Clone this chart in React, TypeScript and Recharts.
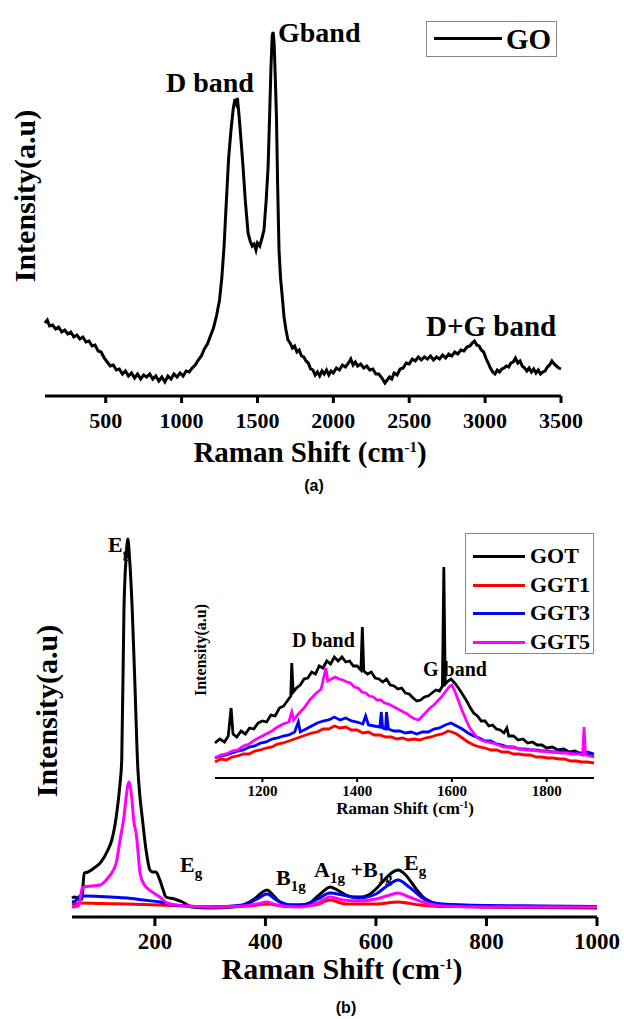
import { LineChart, Line, XAxis, YAxis } from 'recharts';

const serif = "'Liberation Serif', Tinos, 'Times New Roman', Times, 'DejaVu Serif', serif";
const sans = "'Liberation Sans', Arial, sans-serif";

// (a) GO Raman spectrum: [shift cm-1, intensity a.u.]
const goSpectrum: [number, number][] = [
  [100, 73], [115, 76], [130, 70], [150, 71], [170, 67], [190, 69], [210, 64], [230, 66], [250, 62], [270, 64],
  [290, 59], [310, 61], [330, 57], [350, 59], [370, 54], [390, 55], [410, 50], [430, 51], [450, 45], [470, 44],
  [490, 38], [510, 34], [530, 30], [550, 31], [570, 26], [590, 27], [610, 22], [630, 25], [650, 20], [670, 23],
  [690, 18], [710, 22], [730, 17], [750, 21], [770, 19], [790, 22], [810, 17], [830, 20], [850, 15], [870, 19],
  [890, 14], [910, 20], [930, 17], [950, 22], [970, 19], [990, 23], [1010, 20], [1030, 25], [1050, 24], [1070, 28],
  [1090, 31], [1110, 36], [1130, 40], [1150, 47], [1170, 52], [1190, 60], [1210, 68], [1230, 80], [1250, 96], [1265, 118],
  [1280, 150], [1295, 195], [1310, 238], [1325, 265], [1340, 287], [1352, 297], [1360, 293], [1368, 298], [1380, 278], [1392, 255],
  [1405, 229], [1420, 195], [1438, 163], [1452, 155], [1465, 150], [1478, 152], [1490, 146], [1500, 153], [1515, 150], [1530, 158],
  [1543, 166], [1557, 195], [1570, 229], [1580, 280], [1589, 329], [1597, 360], [1603, 364], [1610, 352], [1617, 320], [1625, 280],
  [1633, 210], [1642, 146], [1652, 118], [1663, 100], [1675, 79], [1688, 66], [1701, 56], [1715, 53], [1730, 48], [1745, 50],
  [1760, 44], [1775, 46], [1790, 40], [1805, 39], [1820, 35], [1835, 33], [1850, 27], [1865, 26], [1880, 21], [1895, 24],
  [1910, 20], [1925, 25], [1940, 22], [1955, 26], [1970, 21], [1985, 25], [2000, 23], [2020, 28], [2040, 26], [2060, 31],
  [2080, 29], [2100, 33], [2115, 37], [2130, 31], [2145, 34], [2160, 30], [2180, 32], [2200, 28], [2220, 30], [2240, 26],
  [2260, 27], [2280, 22], [2300, 22], [2320, 18], [2340, 13], [2355, 16], [2370, 19], [2385, 17], [2400, 23], [2420, 21],
  [2440, 27], [2460, 28], [2480, 33], [2500, 32], [2520, 37], [2540, 35], [2560, 39], [2580, 36], [2600, 39], [2620, 37],
  [2640, 40], [2660, 36], [2680, 39], [2700, 37], [2720, 41], [2740, 38], [2760, 42], [2780, 40], [2800, 44], [2820, 42],
  [2840, 46], [2860, 45], [2880, 49], [2900, 50], [2915, 53], [2930, 55], [2945, 51], [2960, 50], [2975, 46], [2990, 44],
  [3005, 38], [3020, 33], [3035, 28], [3050, 24], [3065, 22], [3080, 26], [3095, 24], [3110, 27], [3125, 28], [3140, 30],
  [3155, 29], [3170, 33], [3185, 34], [3200, 38], [3215, 33], [3230, 35], [3245, 30], [3260, 28], [3275, 25], [3290, 28],
  [3305, 24], [3320, 27], [3335, 23], [3350, 26], [3365, 22], [3380, 24], [3395, 25], [3410, 29], [3425, 31], [3440, 35],
  [3455, 32], [3470, 30], [3485, 28], [3500, 27],
];
const goTicks = [500, 1000, 1500, 2000, 2500, 3000, 3500];

// (b) low-wavenumber spectra
const gotLow: [number, number][] = [
  [50, 19], [55, 20], [64, 17], [68, 18], [72, 44], [79, 45], [90, 49], [101, 54], [115, 67], [122, 77],
  [130, 100], [137, 134], [140, 157], [144, 307], [148, 360], [151, 378], [154, 360], [159, 307], [164, 230], [169, 150],
  [173, 120], [177, 100], [184, 67], [191, 47], [196, 45], [202, 45], [209, 37], [215, 27], [220, 20], [235, 18],
  [250, 15], [267, 10], [300, 9], [340, 10], [360, 12], [380, 18], [395, 25], [403, 27], [412, 23], [426, 15],
  [445, 12], [463, 12], [480, 14], [495, 21], [510, 28], [517, 30], [530, 27], [545, 22], [557, 20], [572, 20],
  [586, 22], [600, 28], [615, 37], [628, 44], [640, 47], [652, 43], [665, 34], [677, 25], [687, 19], [700, 15],
  [716, 12], [750, 11], [800, 10], [900, 9.5], [1000, 9],
];
const ggt1Low: [number, number][] = [
  [50, 12], [56, 13], [64, 14], [100, 13.5], [150, 13], [209, 12], [258, 11], [300, 10], [370, 11], [403, 13],
  [440, 10.5], [490, 12], [517, 17], [545, 13], [600, 13], [640, 15], [680, 12], [720, 10.5], [1000, 10],
];
const ggt3Low: [number, number][] = [
  [50, 15], [56, 16], [62, 20], [66, 21], [77, 21], [100, 20.5], [119, 20], [150, 19], [179, 17], [209, 15],
  [233, 12], [258, 11], [300, 10], [360, 12], [385, 18], [403, 23], [420, 17], [445, 12], [470, 12], [495, 18],
  [517, 24], [540, 22], [570, 19], [600, 23], [620, 31], [640, 37], [660, 30], [690, 17], [720, 13], [800, 11.5],
  [900, 11], [1000, 10.5],
];
const ggt5Low: [number, number][] = [
  [50, 10], [60, 11], [64, 15], [68, 28], [72, 30], [85, 31], [101, 32], [115, 39], [124, 46], [130, 54],
  [137, 77], [144, 100], [148, 120], [153, 135], [158, 120], [162, 95], [166, 84], [170, 62], [173, 44], [180, 33],
  [188, 28], [195, 25], [209, 20], [222, 14], [240, 12], [258, 11], [300, 10], [360, 11], [385, 13], [403, 15],
  [420, 12], [460, 10], [495, 14], [517, 20], [540, 17], [570, 16], [600, 18], [625, 22], [640, 24], [660, 20],
  [690, 14], [720, 11], [800, 10], [1000, 10],
];
const lowTicks = [200, 400, 600, 800, 1000];

// (b) inset, D and G band region
const gotHigh: [number, number][] = [
  [1100, 35], [1110, 39], [1120, 36], [1128, 42], [1134, 70], [1138, 44], [1146, 41], [1155, 47], [1164, 44], [1173, 50],
  [1182, 49], [1191, 55], [1200, 57], [1209, 56], [1218, 63], [1227, 62], [1236, 70], [1245, 72], [1254, 78], [1260, 82],
  [1262, 115], [1265, 86], [1272, 90], [1280, 93], [1288, 99], [1296, 100], [1304, 106], [1312, 104], [1320, 112], [1328, 110],
  [1336, 117], [1344, 114], [1352, 121], [1360, 117], [1368, 121], [1376, 116], [1384, 117], [1392, 112], [1400, 112], [1408, 108],
  [1411, 151], [1414, 107], [1422, 104], [1430, 106], [1438, 100], [1446, 99], [1454, 96], [1462, 99], [1470, 93], [1478, 92],
  [1486, 89], [1494, 90], [1502, 85], [1510, 84], [1518, 80], [1526, 77], [1534, 78], [1542, 81], [1550, 82], [1558, 85],
  [1566, 88], [1574, 87], [1580, 92], [1583, 211], [1586, 94], [1592, 97], [1598, 99], [1606, 95], [1614, 90], [1622, 84],
  [1630, 78], [1638, 71], [1646, 65], [1654, 62], [1662, 57], [1670, 57], [1678, 52], [1686, 53], [1694, 49], [1702, 48],
  [1710, 45], [1716, 50], [1720, 42], [1730, 42], [1740, 38], [1750, 39], [1760, 35], [1770, 36], [1780, 33], [1790, 33],
  [1800, 30], [1812, 31], [1824, 28], [1836, 29], [1848, 26], [1860, 27], [1872, 24], [1884, 24], [1900, 21],
];
const ggt1High: [number, number][] = [
  [1100, 16], [1112, 19], [1124, 18], [1136, 21], [1148, 22], [1160, 24], [1172, 24], [1184, 27], [1196, 28], [1208, 30],
  [1220, 31], [1232, 34], [1244, 35], [1256, 37], [1268, 39], [1280, 41], [1292, 43], [1304, 45], [1316, 46], [1328, 49],
  [1340, 49], [1352, 52], [1364, 50], [1376, 51], [1388, 48], [1400, 48], [1412, 45], [1424, 46], [1436, 43], [1448, 43],
  [1460, 41], [1472, 41], [1484, 39], [1496, 40], [1508, 38], [1520, 39], [1532, 38], [1544, 40], [1556, 41], [1568, 43],
  [1580, 44], [1592, 47], [1600, 46], [1610, 44], [1622, 40], [1634, 36], [1646, 33], [1658, 31], [1670, 30], [1682, 28],
  [1694, 28], [1706, 26], [1718, 26], [1730, 24], [1742, 24], [1754, 23], [1766, 23], [1778, 21], [1790, 21], [1802, 20],
  [1814, 20], [1826, 19], [1838, 19], [1850, 17], [1862, 17], [1874, 16], [1886, 16], [1900, 15],
];
const ggt3High: [number, number][] = [
  [1100, 20], [1112, 22], [1124, 23], [1136, 25], [1148, 27], [1160, 28], [1172, 31], [1184, 32], [1196, 35], [1208, 36],
  [1220, 39], [1232, 40], [1244, 42], [1256, 43], [1268, 46], [1276, 56], [1280, 46], [1292, 49], [1304, 52], [1316, 55],
  [1328, 57], [1340, 58], [1352, 61], [1364, 58], [1376, 60], [1388, 57], [1400, 56], [1412, 54], [1418, 62], [1424, 53],
  [1436, 52], [1448, 51], [1451, 66], [1454, 50], [1460, 49], [1462, 66], [1466, 49], [1478, 47], [1490, 47], [1502, 45],
  [1514, 46], [1526, 44], [1538, 46], [1550, 46], [1562, 49], [1574, 50], [1586, 53], [1598, 55], [1610, 52], [1622, 49],
  [1634, 45], [1646, 42], [1658, 40], [1670, 37], [1682, 37], [1694, 34], [1706, 33], [1718, 31], [1730, 31], [1742, 29],
  [1754, 29], [1766, 28], [1778, 28], [1790, 27], [1802, 27], [1814, 26], [1826, 26], [1838, 26], [1850, 25], [1862, 25],
  [1874, 25], [1886, 26], [1900, 24],
];
const ggt5High: [number, number][] = [
  [1100, 20], [1112, 23], [1124, 24], [1136, 27], [1148, 28], [1160, 32], [1172, 34], [1184, 38], [1196, 41], [1208, 44],
  [1220, 47], [1232, 51], [1244, 54], [1256, 56], [1262, 66], [1266, 58], [1276, 64], [1288, 70], [1300, 78], [1312, 84],
  [1324, 89], [1334, 110], [1338, 97], [1346, 99], [1354, 101], [1362, 99], [1370, 98], [1378, 96], [1386, 95], [1394, 91],
  [1402, 90], [1410, 86], [1418, 85], [1426, 82], [1434, 81], [1442, 78], [1450, 78], [1458, 75], [1466, 74], [1474, 72],
  [1482, 70], [1490, 68], [1498, 66], [1506, 64], [1514, 61], [1522, 59], [1530, 58], [1538, 62], [1546, 66], [1554, 70],
  [1562, 73], [1570, 77], [1578, 81], [1586, 86], [1594, 91], [1600, 93], [1606, 87], [1614, 77], [1622, 67], [1630, 58],
  [1638, 50], [1646, 45], [1654, 40], [1662, 38], [1674, 36], [1686, 35], [1698, 33], [1710, 31], [1722, 31], [1734, 30],
  [1746, 29], [1758, 28], [1770, 28], [1782, 27], [1794, 27], [1806, 26], [1818, 26], [1830, 25], [1842, 25], [1854, 24],
  [1866, 24], [1876, 23], [1879, 51], [1882, 23], [1890, 22], [1900, 21],
];
const insetTicks = [1200, 1400, 1600, 1800];

const sampleNames = ['GOT', 'GGT1', 'GGT3', 'GGT5'];
const sampleColors = ['#000000', '#ff0000', '#0000ff', '#ff00ff'];
const lowSeries = [gotLow, ggt1Low, ggt3Low, ggt5Low];
const highSeries = [gotHigh, ggt1High, ggt3High, ggt5High];

const toRows = (pts: [number, number][]) => pts.map(([x, y]) => ({ x, y }));

const frame = (w: number) => ({ stroke: '#000', strokeWidth: w });

function Txt({ left, top, size, children, family = serif, center = false, width = 0 }: any) {
  return (
    <div
      style={{
        position: 'absolute',
        left: center ? left - width / 2 : left,
        top,
        width: center ? width : undefined,
        textAlign: center ? 'center' : 'left',
        fontFamily: family,
        fontWeight: 700,
        fontSize: size,
        lineHeight: `${size}px`,
        whiteSpace: 'nowrap',
        color: '#000',
      }}
    >
      {children}
    </div>
  );
}

function VTxt({ cx, cy, size, children }: any) {
  return (
    <div
      style={{
        position: 'absolute',
        left: cx,
        top: cy,
        transform: 'translate(-50%, -50%) rotate(-90deg)',
        fontFamily: serif,
        fontWeight: 700,
        fontSize: size,
        lineHeight: `${size}px`,
        whiteSpace: 'nowrap',
      }}
    >
      {children}
    </div>
  );
}

const Sub = ({ children, size = 15 }: any) => (
  <span style={{ fontSize: size, position: 'relative', top: 6 }}>{children}</span>
);
const Sup = ({ children, size, lift }: any) => (
  <span style={{ fontSize: size, position: 'relative', top: -lift }}>{children}</span>
);

export default function App() {
  return (
    <div style={{ position: 'absolute', left: 0, top: 0, width: 624, height: 1019, background: '#fff' }}>
      {/* panel (a) */}
      <Txt left={166} top={68.5} size={28}>D band</Txt>
      <Txt left={278} top={18.5} size={28}>Gband</Txt>
      <Txt left={426} top={311.5} size={29}>D+G band</Txt>

      <div style={{ position: 'absolute', left: 0, top: 0 }}>
        <LineChart width={624} height={440} margin={{ top: 14, right: 63, bottom: 0, left: 45 }}>
          <XAxis
            xAxisId="b" type="number" dataKey="x" domain={[100, 3500]} ticks={goTicks} height={44}
            axisLine={frame(3)} tickLine={frame(3)} tickSize={7} tickMargin={9}
            tick={{ fill: '#000', fontSize: 22, fontWeight: 700, fontFamily: serif }}
          />
          <XAxis xAxisId="t" orientation="top" type="number" domain={[100, 3500]} height={0} tick={false} tickLine={false} axisLine={frame(3)} />
          <YAxis yAxisId="l" type="number" domain={[0, 382]} width={0} tick={false} tickLine={false} axisLine={frame(3)} />
          <YAxis yAxisId="r" orientation="right" type="number" domain={[0, 382]} width={0} tick={false} tickLine={false} axisLine={frame(3)} />
          <Line
            xAxisId="b" yAxisId="l" data={toRows(goSpectrum)} dataKey="y" type="linear"
            stroke="#000" strokeWidth={3} dot={false} isAnimationActive={false}
          />
        </LineChart>
      </div>

      <div style={{ position: 'absolute', left: 426, top: 21, width: 129, height: 34, border: '1px solid #888', background: '#fff' }} />
      <div style={{ position: 'absolute', left: 434, top: 37, width: 68, height: 3, background: '#000' }} />
      <Txt left={506} top={24.5} size={29}>GO</Txt>

      <VTxt cx={25} cy={196} size={30}>Intensity(a.u)</VTxt>
      <Txt left={310} center width={400} top={437.5} size={29}>
        Raman Shift (cm<Sup size={15} lift={10}>-1</Sup>)
      </Txt>
      <Txt left={314} center width={60} top={478} size={16} family={sans}>(a)</Txt>

      {/* panel (b) */}
      <Txt left={108} top={533.5} size={22}>E<Sub>g</Sub></Txt>
      <Txt left={180} top={853.5} size={22}>E<Sub>g</Sub></Txt>
      <Txt left={276} top={867} size={22}>B<Sub>1g</Sub></Txt>
      <Txt left={314} top={859} size={22}>A<Sub>1g</Sub> +B<Sub>1g</Sub></Txt>
      <Txt left={404} top={852} size={22}>E<Sub>g</Sub></Txt>

      <div style={{ position: 'absolute', left: 0, top: 500 }}>
        <LineChart width={624} height={470} margin={{ top: 26, right: 27, bottom: 0, left: 72 }}>
          <XAxis
            xAxisId="b" type="number" dataKey="x" domain={[50, 1000]} ticks={lowTicks} height={53}
            axisLine={frame(3)} tickLine={frame(3)} tickSize={9} tickMargin={7}
            tick={{ fill: '#000', fontSize: 23, fontWeight: 700, fontFamily: serif }}
          />
          <XAxis xAxisId="t" orientation="top" type="number" domain={[50, 1000]} height={0} tick={false} tickLine={false} axisLine={frame(3)} />
          <YAxis yAxisId="l" type="number" domain={[0, 391]} width={0} tick={false} tickLine={false} axisLine={frame(3)} />
          <YAxis yAxisId="r" orientation="right" type="number" domain={[0, 391]} width={0} tick={false} tickLine={false} axisLine={frame(3)} />
          {lowSeries.map((s, i) => (
            <Line
              key={sampleNames[i]} xAxisId="b" yAxisId="l" data={toRows(s)} dataKey="y" type="monotone"
              stroke={sampleColors[i]} strokeWidth={3} dot={false} isAnimationActive={false}
            />
          ))}
        </LineChart>
      </div>

      {/* inset */}
      <Txt left={292} top={630} size={20}>D band</Txt>
      <Txt left={423} top={658.5} size={20}>G band</Txt>

      <div style={{ position: 'absolute', left: 0, top: 520 }}>
        <LineChart width={624} height={290} margin={{ top: 11, right: 30, bottom: 0, left: 215 }}>
          <XAxis
            xAxisId="b" type="number" dataKey="x" domain={[1100, 1900]} ticks={insetTicks} height={32}
            axisLine={frame(2)} tickLine={frame(2)} tickSize={4} tickMargin={3}
            tick={{ fill: '#000', fontSize: 15, fontWeight: 700, fontFamily: serif }}
          />
          <XAxis xAxisId="t" orientation="top" type="number" domain={[1100, 1900]} height={0} tick={false} tickLine={false} axisLine={frame(2)} />
          <YAxis yAxisId="l" type="number" domain={[0, 247]} width={0} tick={false} tickLine={false} axisLine={frame(2)} />
          <YAxis yAxisId="r" orientation="right" type="number" domain={[0, 247]} width={0} tick={false} tickLine={false} axisLine={frame(2)} />
          {highSeries.map((s, i) => (
            <Line
              key={sampleNames[i]} xAxisId="b" yAxisId="l" data={toRows(s)} dataKey="y" type="linear"
              stroke={sampleColors[i]} strokeWidth={2.8} dot={false} isAnimationActive={false}
            />
          ))}
        </LineChart>
      </div>

      <div style={{ position: 'absolute', left: 465, top: 533, width: 127, height: 119, border: '1px solid #888', background: '#fff' }} />
      {sampleNames.map((name, i) => (
        <div key={name}>
          <div style={{ position: 'absolute', left: 473, top: 555 + i * 28.7, width: 52, height: 3, background: sampleColors[i] }} />
          <Txt left={530} top={545 + i * 28.7} size={22}>{name}</Txt>
        </div>
      ))}

      <VTxt cx={201} cy={650} size={16}>Intensity(a.u)</VTxt>
      <Txt left={405} center width={300} top={799.5} size={17}>
        Raman Shift (cm<Sup size={10} lift={6}>-1</Sup>)
      </Txt>

      <VTxt cx={47} cy={711} size={30}>Intensity(a.u)</VTxt>
      <Txt left={342} center width={400} top={954} size={30}>
        Raman Shift (cm<Sup size={15} lift={10}>-1</Sup>)
      </Txt>
      <Txt left={346} center width={60} top={1000} size={16} family={sans}>(b)</Txt>
    </div>
  );
}
